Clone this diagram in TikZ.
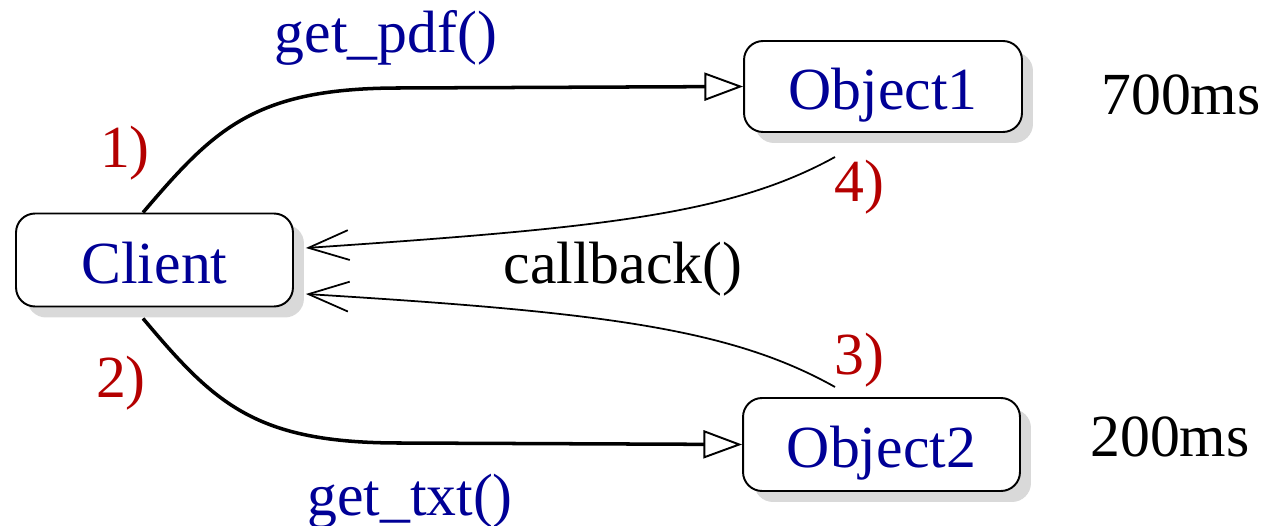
\documentclass[tikz,border=0pt]{standalone}
\usepackage{fontspec}
\setmainfont{Liberation Serif}
\usetikzlibrary{arrows.meta,shadows,calc}
\definecolor{txtblue}{RGB}{0,0,150}
\definecolor{numred}{RGB}{180,0,0}
\tikzset{
  bigfont/.style={font=\fontsize{34}{40}\selectfont},
  objbox/.style={bigfont, draw, line width=1.1pt, rounded corners=0.38cm, fill=white,
    text=txtblue, inner sep=0pt, text height=26.6pt, text depth=0pt,
    drop shadow={shadow xshift=0.22cm, shadow yshift=-0.22cm, fill=black!15, opacity=1}},
  call/.style={line width=2pt, -{Triangle[open, length=22pt, width=16pt, line width=1.1pt]}},
  back/.style={line width=1pt, -{Straight Barb[length=23pt, width=17pt]}},
  bluelbl/.style={bigfont, text=txtblue, anchor=base, inner sep=0pt},
  redlbl/.style={bigfont, text=numred, anchor=base, inner sep=0pt},
  blacklbl/.style={bigfont, anchor=base, inner sep=0pt},
}
\begin{document}
\begin{tikzpicture}[x=0.02cm, y=-0.02cm]
\useasboundingbox (0,0) rectangle (1270,526);
\node[objbox, minimum width=5.54cm, minimum height=1.86cm] (client) at (154.5,260) {Client};
\node[objbox, minimum width=5.56cm, minimum height=1.82cm] (o1) at (883,86.5) {Object1};
\node[objbox, minimum width=5.54cm, minimum height=1.86cm] (o2) at (881.5,444.5) {Object2};

\coordinate (s4) at (835,157);
\coordinate (s3) at (835,387);

\draw[call] ([xshift=-0.23cm]client.north) .. controls (215,128) and (255,88) .. (400,88) -- (o1.west);
\draw[call] ([xshift=-0.23cm,yshift=-0.22cm]client.south) .. controls (215,404) and (255,443) .. (400,443) -- (o2.west);

\draw[back] (s4) .. controls (730,215) and (600,228) .. ([xshift=0.24cm,yshift=0.24cm]client.east);
\draw[back] (s3) .. controls (730,328) and (600,312) .. ([xshift=0.24cm,yshift=-0.68cm]client.east);

\node[bluelbl] (lpdf) at (386,53) {get\_pdf()};
\node[bluelbl] (ltxt) at (410,515) {get\_txt()};
\node[redlbl] (n1) at (125,168) {1)};
\node[redlbl] (n2) at (121,398) {2)};
\node[redlbl] (n4) at (859,202) {4)};
\node[redlbl] (n3) at (859,375) {3)};
\node[blacklbl] (lcb) at (623,284) {callback()};
\node[blacklbl] (t1) at (1181,115) {700ms};
\node[blacklbl] (t2) at (1170,456) {200ms};
\end{tikzpicture}
\end{document}
